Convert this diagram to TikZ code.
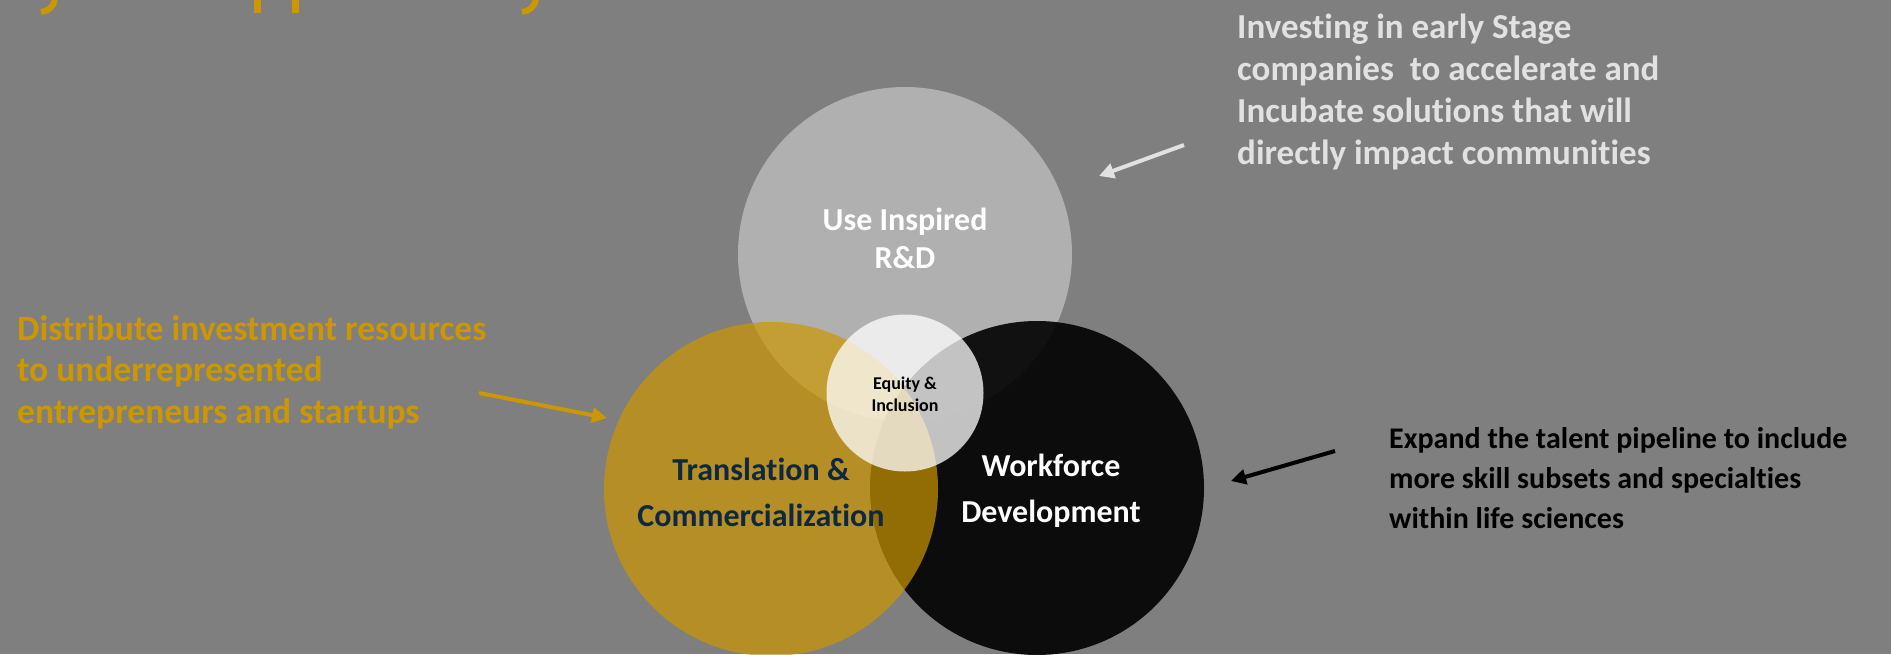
\documentclass[tikz,border=0pt]{standalone}
\usepackage{fontspec}
\setmainfont{Carlito}[Ligatures=NoCommon]
\usetikzlibrary{arrows.meta, positioning}
\definecolor{slidegray}{HTML}{7F7F7F}
\definecolor{rdgray}{HTML}{B0B0B0}
\definecolor{gold}{HTML}{CC9700}
\definecolor{navy}{HTML}{0E2841}
\definecolor{notegray}{HTML}{E1E1E1}
\tikzstyle{venn} = [circle, minimum size=334pt, inner sep=0pt, draw=none]
\tikzstyle{vennlabel} = [font=\bfseries\fontsize{32}{46}\selectfont, align=center, inner sep=0pt]
\tikzstyle{note} = [font=\bfseries\fontsize{35}{42}\selectfont, align=left, anchor=north west, inner sep=0pt]
\tikzstyle{arrow} = [line width=4pt, -{Triangle[length=15pt,width=15pt]}]

\begin{document}
\begin{tikzpicture}[x=1pt, y=-1pt]
        \fill[slidegray] (0,0) rectangle (1891,654);
        \useasboundingbox (0,0) rectangle (1891,654);

        % cut-off title (descenders only)
        \draw[gold, line width=6pt] (55,-1) .. controls (53,8) and (48,11) .. (41,12);
        \draw[gold, line width=7pt] (257.5,-1) -- (257.5,13);
        \draw[gold, line width=7pt] (295.5,-1) -- (295.5,13);
        \draw[gold, line width=6pt] (536,-1) .. controls (534,8) and (529,11) .. (522,12);

        % Circles
        \node (rd) [venn, fill=rdgray] at (905,254) {};
        \node (work) [venn, fill=black, fill opacity=0.9] at (1037,488) {};
        \node (trans) [venn, fill=gold, fill opacity=0.7] at (771,489) {};
        \node (equity) [circle, minimum size=157pt, inner sep=0pt, fill=white, fill opacity=0.75] at (905,393) {};

        % Circle labels
        \node (rdlabel) [vennlabel, white, font=\bfseries\fontsize{32}{38}\selectfont] at (905,238) {Use Inspired\\R\&D};
        \node (translabel) [vennlabel, navy] at (761,492) {Translation \&\\Commercialization};
        \node (worklabel) [vennlabel, white] at (1051,491) {Workforce\\Development};
        \node (eqlabel) [vennlabel, black, font=\bfseries\fontsize{18}{22}\selectfont] at (905,394) {Equity \&\\Inclusion};

        % Notes
        \node (rdnote) [note, notegray] at (1237,14) {Investing in early Stage\\companies\ \ to accelerate and\\Incubate solutions that will\\directly impact communities};
        \node (transnote) [note, gold, font=\bfseries\fontsize{35.5}{41.6}\selectfont] at (17,315) {Distribute investment resources\\to underrepresented\\entrepreneurs and startups};
        \node (worknote) [note, black, font=\bfseries\fontsize{30}{40.2}\selectfont] at (1389,427) {Expand the talent pipeline to include\\more skill subsets and specialties\\within life sciences};

        % Arrows: notes -> circles
        \coordinate (rdfrom) at (1184,145);
        \coordinate (rdto) at (1099,176);
        \coordinate (transfrom) at (479,393);
        \coordinate (transto) at (607,418);
        \coordinate (workfrom) at (1335,451);
        \coordinate (workto) at (1231,481);
        \draw [arrow, notegray] (rdfrom) -- (rdto);
        \draw [arrow, gold] (transfrom) -- (transto);
        \draw [arrow, black] (workfrom) -- (workto);

\end{tikzpicture}
\end{document}
